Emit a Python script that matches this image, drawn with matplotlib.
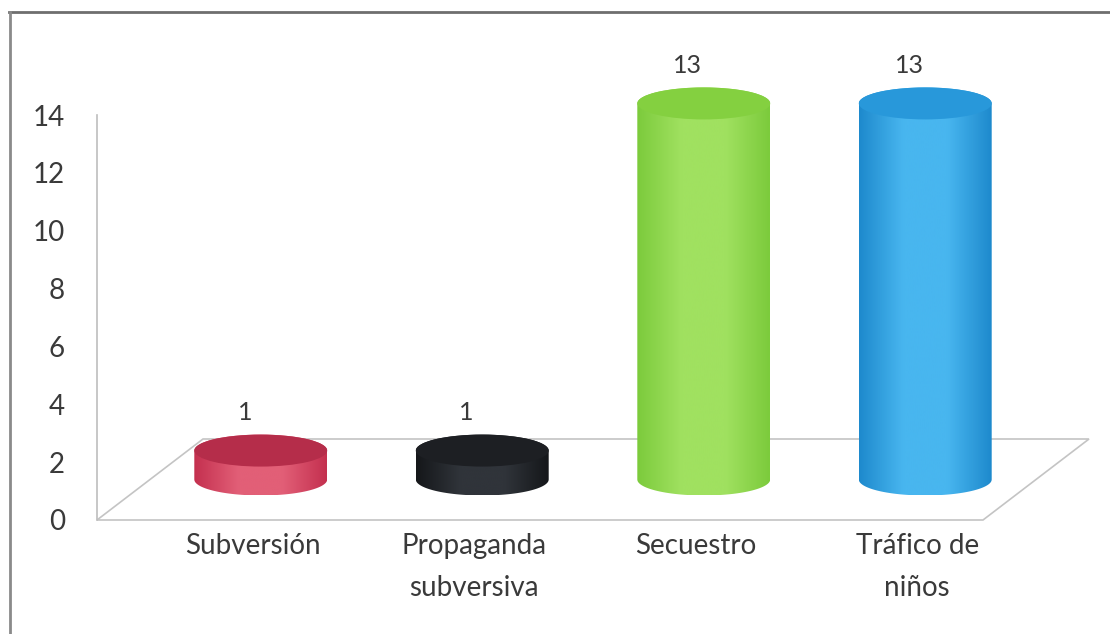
import numpy as np
import matplotlib.pyplot as plt
from matplotlib.patches import Polygon, Ellipse
from matplotlib.lines import Line2D
from matplotlib.colors import LinearSegmentedColormap

plt.rcParams['font.family'] = ['Lato', 'DejaVu Sans']

categorias = ['Subversión', 'Propaganda\nsubversiva', 'Secuestro', 'Tráfico de\nniños']
valores = [1, 1, 13, 13]
marcas_y = [0, 2, 4, 6, 8, 10, 12, 14]

# (borde, centro iluminado, tapa)
colores = [
    ('#c4304f', '#e25f77', '#b52d4a'),
    ('#15171a', '#30343a', '#1d1f23'),
    ('#7ccb3c', '#a0e160', '#84d040'),
    ('#1e8acd', '#48b6ef', '#2898da'),
]

TEXTO = '#3a3a3a'
PROF_PX = (106, 81)      # desplazamiento del fondo del piso, en pixeles
ALTO_ELIPSE_PX = 32
ANCHO_CIL = 0.6

fig = plt.figure(figsize=(11.1, 6.34), dpi=100)
ax = fig.add_axes([97 / 1110, 114 / 634, 886 / 1110, 405 / 634])
ax.set_xlim(-0.5, 3.5)
ax.set_ylim(0, 14)
ax.set_autoscale_on(False)

# escala pixeles por unidad en cada eje
p0 = ax.transData.transform((0, 0))
p1 = ax.transData.transform((1, 1))
ppx, ppy = p1 - p0
dx, dy = PROF_PX[0] / ppx, PROF_PX[1] / ppy
b = ALTO_ELIPSE_PX / 2 / ppy

# piso en perspectiva
piso = Polygon([(-0.5, 0), (3.5, 0), (3.5 + dx, dy), (-0.5 + dx, dy)], closed=True,
               facecolor='none', edgecolor='#c4c4c4', lw=1.2, clip_on=False, zorder=1)
ax.add_patch(piso)

t_inf = np.linspace(np.pi, 2 * np.pi, 60)
t_sup = np.linspace(0, np.pi, 60)
a = ANCHO_CIL / 2

for i, (v, (borde, luz, tapa)) in enumerate(zip(valores, colores)):
    cx = i + dx / 2
    yb = dy / 2
    yt = yb + v
    xs = np.concatenate([cx + a * np.cos(t_inf), cx + a * np.cos(t_sup)])
    ys = np.concatenate([yb + b * np.sin(t_inf), yt + b * np.sin(t_sup)])
    cuerpo = Polygon(np.column_stack([xs, ys]), closed=True, facecolor='none',
                     edgecolor='none', clip_on=False, transform=ax.transData)
    ax.add_patch(cuerpo)
    cmap = LinearSegmentedColormap.from_list('c%d' % i, [borde, luz, luz, borde])
    grad = np.linspace(0, 1, 200).reshape(1, -1)
    im = ax.imshow(grad, cmap=cmap, aspect='auto', interpolation='bicubic',
                   extent=(cx - a, cx + a, yb - b, yt + b), zorder=2)
    im.set_clip_box(fig.bbox)
    im.set_clip_path(cuerpo)
    ax.add_patch(Ellipse((cx, yt), 2 * a, 2 * b, facecolor=tapa, edgecolor='none',
                         zorder=3, clip_on=False))
    ax.annotate(str(v), xy=(cx, yt), xytext=(-16, 38), textcoords='offset pixels',
                ha='center', va='center', fontsize=18, color=TEXTO,
                annotation_clip=False)

for i, cat in enumerate(categorias):
    ax.annotate(cat, xy=(i, 0), xytext=(45, -13), textcoords='offset pixels',
                ha='center', va='top', fontsize=20, color=TEXTO, linespacing=1.75,
                annotation_clip=False)

ax.set_yticks(marcas_y)
ax.set_yticklabels([str(m) for m in marcas_y], fontsize=20, color=TEXTO)
ax.tick_params(axis='y', length=0, pad=23)
ax.set_xticks([])
for lado in ['top', 'right', 'bottom']:
    ax.spines[lado].set_visible(False)
ax.spines['left'].set_color('#bdbdbd')
ax.spines['left'].set_linewidth(1.2)
ax.patch.set_alpha(0)

# marco exterior
fig.add_artist(Line2D([9 / 1110, 1], [1 - 12 / 634, 1 - 12 / 634], color='#6e6e6e', lw=2))
fig.add_artist(Line2D([10 / 1110, 10 / 1110], [0, 1 - 12 / 634], color='#8a8a8a', lw=2))

fig.savefig('out.png', dpi=100)
